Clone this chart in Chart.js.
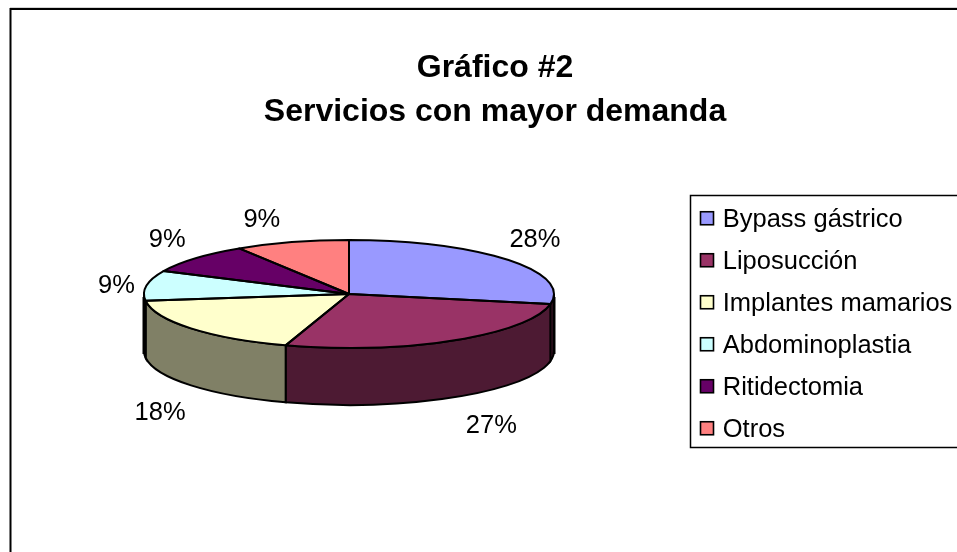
<!DOCTYPE html>
<html><head><meta charset="utf-8">
<style>html,body{margin:0;padding:0;background:#fff}#w{width:957px;height:552px;overflow:hidden}</style>
<script src="https://cdn.jsdelivr.net/npm/chart.js@4"></script>
</head><body><div id="w"><canvas id="c" width="957" height="552"></canvas></div>
<script>
const categories = ['Bypass gástrico','Liposucción','Implantes mamarios','Abdominoplastia','Ritidectomia','Otros'];
const values = [28,27,18,9,9,9];
const topColors = ['#9999FF','#993366','#FFFFCC','#CCFFFF','#660066','#FF8080'];
const sideColors = ['#4D1A33','#4D1A33','#808066','#000000','#330033','#804040'];
const titleLines = ['Gráfico #2','Servicios con mayor demanda'];
const labelNudgeX = [28,38,-31,-30,-28,-30];
const labelNudgeY = [-20,85,85,0,-18,-22];

const FONT = '"Liberation Sans", Arial, sans-serif';
const SQUASH = 54/205, DEPTH = 57, LEGEND_SIZE = 25.5, LEGEND_PAD = 16.5;

const pie3d = {
  id:'pie3d',
  beforeDraw(chart){
    const c = chart.ctx;
    c.save();
    c.fillStyle='#fff'; c.fillRect(0,0,957,552);
    c.fillStyle='#d4d4d4'; c.fillRect(10,7,947,1);
    c.strokeStyle='#000'; c.lineWidth=2;
    c.beginPath(); c.moveTo(10.5,552); c.lineTo(10.5,9); c.lineTo(957,9); c.stroke();
    c.lineWidth=1.5;
    c.beginPath(); c.moveTo(960,195.5); c.lineTo(690.5,195.5); c.lineTo(690.5,447.5); c.lineTo(960,447.5); c.stroke();
    c.restore();
  },
  afterLayout(chart){
    const t = chart.titleBlock; t.left=0; t.right=990;
    const l = chart.legend;
    const dx = 700 - LEGEND_PAD - l.left, dy = 191 - l.top;
    l.left+=dx; l.right+=dx; l.top+=dy; l.bottom+=dy;
  },
  beforeDatasetsDraw(chart){
    const c = chart.ctx, arcs = chart.getDatasetMeta(0).data;
    c.save();
    arcs.forEach((a,i)=>{
      const a0=Math.max(a.startAngle,0), a1=Math.min(a.endAngle,Math.PI);
      if(a0>=a1) return;
      const ry=a.outerRadius*SQUASH;
      c.beginPath();
      c.ellipse(a.x,a.y,a.outerRadius,ry,0,a0,a1);
      c.ellipse(a.x,a.y+DEPTH,a.outerRadius,ry,0,a1,a0,true);
      c.closePath();
      c.fillStyle=sideColors[i]; c.fill();
      c.strokeStyle='#000'; c.lineWidth=2; c.stroke();
    });
    const f=arcs[0];
    c.lineWidth=3; c.strokeStyle='#000';
    [-1,1].forEach(s=>{
      c.beginPath(); c.moveTo(f.x+s*f.outerRadius,f.y+3); c.lineTo(f.x+s*f.outerRadius,f.y+DEPTH+3); c.stroke();
    });
    c.restore();
    c.save();
    c.translate(f.x,f.y); c.scale(1,SQUASH); c.translate(-f.x,-f.y);
  },
  afterDatasetsDraw(chart){
    const c = chart.ctx, arcs = chart.getDatasetMeta(0).data;
    c.restore();
    c.save();
    c.strokeStyle='#000'; c.lineWidth=2; c.lineJoin='round';
    arcs.forEach(a=>{
      c.beginPath();
      c.moveTo(a.x,a.y);
      c.ellipse(a.x,a.y,a.outerRadius,a.outerRadius*SQUASH,0,a.startAngle,a.endAngle);
      c.closePath(); c.stroke();
    });
    c.fillStyle='#000'; c.font='25.5px '+FONT; c.textAlign='center'; c.textBaseline='middle';
    arcs.forEach((a,i)=>{
      const m=(a.startAngle+a.endAngle)/2;
      const px=a.x+a.outerRadius*Math.cos(m)+labelNudgeX[i];
      const py=a.y+a.outerRadius*SQUASH*Math.sin(m)+labelNudgeY[i];
      c.fillText(values[i]+'%',px,py);
    });
    c.restore();
  },
  afterDraw(chart){
    const c = chart.ctx, l = chart.legend;
    c.save();
    categories.forEach((t,i)=>{
      const x=l.left+LEGEND_PAD;
      const y=l.top+LEGEND_PAD+i*(LEGEND_SIZE+LEGEND_PAD)+LEGEND_SIZE/2-8.5;
      c.fillStyle=topColors[i]; c.fillRect(x+.5,y,13,13);
      c.strokeStyle='#000'; c.lineWidth=1.6; c.strokeRect(x+.5,y,13,13);
    });
    c.restore();
  }
};

new Chart(document.getElementById('c'),{
  type:'pie',
  data:{labels:categories,datasets:[{data:values,backgroundColor:topColors,borderWidth:0}]},
  plugins:[pie3d],
  options:{
    responsive:false,animation:false,
    radius:205,
    layout:{padding:{left:0,right:259,top:0,bottom:98}},
    plugins:{
      tooltip:{enabled:false},
      title:{display:true,text:titleLines,color:'#000',
        font:{family:FONT,size:32,weight:'bold',lineHeight:1.375},
        padding:{top:46,bottom:0}},
      legend:{display:true,position:'chartArea',align:'start',
        labels:{color:'#000',font:{family:FONT,size:LEGEND_SIZE},boxWidth:10,boxHeight:10,padding:LEGEND_PAD,
          generateLabels:()=>categories.map((t,i)=>({text:t,fillStyle:'rgba(0,0,0,0)',strokeStyle:'rgba(0,0,0,0)',lineWidth:0,index:i}))}}
    }
  }
});
</script></body></html>
